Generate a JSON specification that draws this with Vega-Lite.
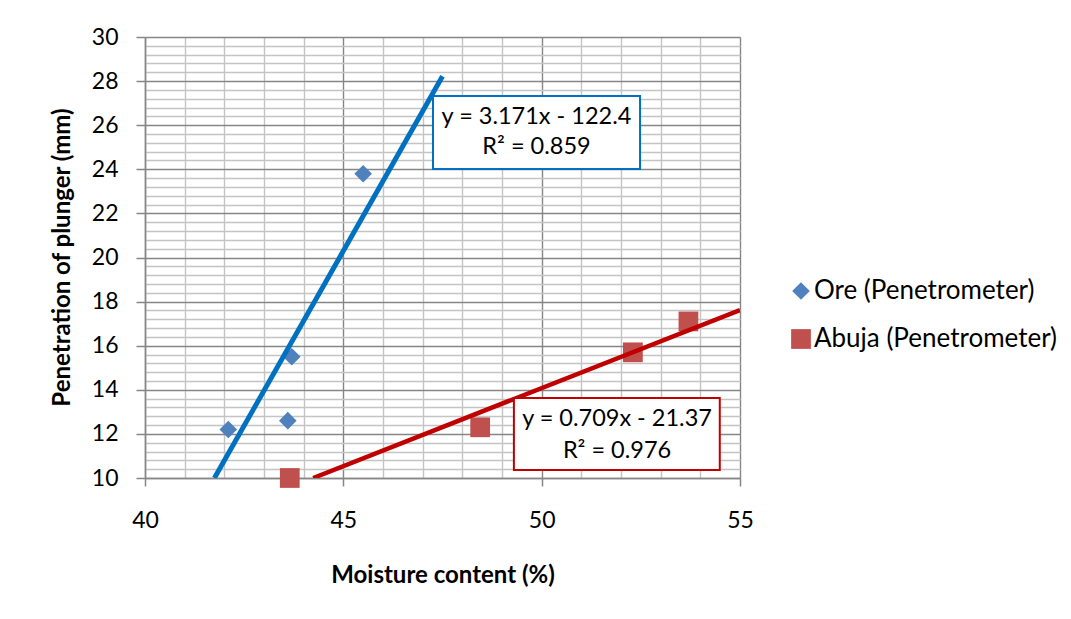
{
  "$schema": "https://vega.github.io/schema/vega-lite/v6.json",
  "autosize": {"type": "none"},
  "width": 595,
  "height": 441,
  "padding": {"left": 145, "top": 37, "right": 331, "bottom": 141},
  "background": "white",
  "config": {
    "font": "Lato",
    "view": {"stroke": null},
    "axis": {
      "labelFont": "Lato",
      "labelFontSize": 23,
      "labelColor": "#000000",
      "titleFont": "Lato",
      "titleFontSize": 24,
      "titleFontWeight": "bold",
      "titleColor": "#000000",
      "domainColor": "#868686",
      "domainWidth": 1.5,
      "tickColor": "#868686",
      "tickWidth": 1.5,
      "labelOverlap": false,
      "labelFlush": false,
      "gridWidth": 1.4
    }
  },
  "datasets": {
    "points": [
      {"series": "Ore (Penetrometer)", "moisture": 42.1, "penetration": 12.2},
      {"series": "Ore (Penetrometer)", "moisture": 43.6, "penetration": 12.6},
      {"series": "Ore (Penetrometer)", "moisture": 43.7, "penetration": 15.5},
      {"series": "Ore (Penetrometer)", "moisture": 45.5, "penetration": 23.8},
      {"series": "Abuja (Penetrometer)", "moisture": 43.65, "penetration": 10.0},
      {"series": "Abuja (Penetrometer)", "moisture": 48.45, "penetration": 12.3},
      {"series": "Abuja (Penetrometer)", "moisture": 52.3, "penetration": 15.7},
      {"series": "Abuja (Penetrometer)", "moisture": 53.7, "penetration": 17.1}
    ],
    "ore_trend": [
      {"moisture": 41.75, "penetration": 10.0},
      {"moisture": 47.5, "penetration": 28.22}
    ],
    "abuja_trend": [
      {"moisture": 44.24, "penetration": 10.0},
      {"moisture": 55.0, "penetration": 17.62}
    ],
    "ore_box": [{"moisture": 47.26, "moisture_end": 52.48, "penetration": 24.01, "penetration_end": 27.32}],
    "abuja_box": [{"moisture": 49.30, "moisture_end": 54.49, "penetration": 10.36, "penetration_end": 13.63}],
    "ore_eq": [
      {"moisture": 49.87, "penetration": 26.37, "text": "y = 3.171x - 122.4"},
      {"moisture": 49.87, "penetration": 25.01, "text": "R² = 0.859"}
    ],
    "abuja_eq": [
      {"moisture": 51.9, "penetration": 12.68, "text": "y = 0.709x - 21.37"},
      {"moisture": 51.9, "penetration": 11.22, "text": "R² = 0.976"}
    ]
  },
  "encoding": {
    "x": {
      "field": "moisture",
      "type": "quantitative",
      "title": "Moisture content (%)",
      "scale": {"domain": [40, 55], "nice": false, "zero": false},
      "axis": {
        "values": [40, 41, 42, 43, 44, 45, 46, 47, 48, 49, 50, 51, 52, 53, 54, 55],
        "grid": true,
        "gridColor": {"condition": {"test": "datum.value % 5 === 0", "value": "#868686"}, "value": "#c4c4c4"},
        "tickOpacity": {"condition": {"test": "datum.value % 5 === 0", "value": 1}, "value": 0},
        "labelExpr": "datum.value % 5 === 0 ? format(datum.value, 'd') : ''",
        "tickSize": 8,
        "labelPadding": 23,
        "titleY": 97,
        "titleBaseline": "middle"
      }
    },
    "y": {
      "field": "penetration",
      "type": "quantitative",
      "title": "Penetration of plunger (mm)",
      "scale": {"domain": [10, 30], "nice": false, "zero": false},
      "axis": {
        "values": [10, 10.4, 10.8, 11.2, 11.6, 12, 12.4, 12.8, 13.2, 13.6, 14, 14.4, 14.8, 15.2, 15.6, 16, 16.4, 16.8, 17.2, 17.6, 18, 18.4, 18.8, 19.2, 19.6, 20, 20.4, 20.8, 21.2, 21.6, 22, 22.4, 22.8, 23.2, 23.6, 24, 24.4, 24.8, 25.2, 25.6, 26, 26.4, 26.8, 27.2, 27.6, 28, 28.4, 28.8, 29.2, 29.6, 30],
        "grid": true,
        "gridColor": {"condition": {"test": "abs(datum.value / 2 - round(datum.value / 2)) < 0.001", "value": "#868686"}, "value": "#c4c4c4"},
        "tickOpacity": {"condition": {"test": "abs(datum.value / 2 - round(datum.value / 2)) < 0.001", "value": 1}, "value": 0},
        "labelExpr": "abs(datum.value / 2 - round(datum.value / 2)) < 0.001 ? format(datum.value, 'd') : ''",
        "tickSize": 9,
        "labelPadding": 18,
        "titleX": -83,
        "titleY": 220,
        "titleBaseline": "middle",
        "titleAngle": -90
      }
    }
  },
  "layer": [
    {
      "data": {"name": "points"},
      "mark": {"type": "point", "filled": true, "opacity": 1, "clip": false},
      "encoding": {
        "color": {
          "field": "series",
          "type": "nominal",
          "scale": {"domain": ["Ore (Penetrometer)", "Abuja (Penetrometer)"], "range": ["#4f81bd", "#c0504d"]},
          "legend": {
            "title": null,
            "orient": "none",
            "legendX": 643,
            "legendY": 241,
            "labelFont": "Lato",
            "labelFontSize": 26,
            "labelColor": "#000000",
            "labelLimit": 0,
            "symbolSize": 240,
            "symbolStrokeWidth": 0,
            "labelOffset": 0,
            "rowPadding": 22
          }
        },
        "shape": {
          "field": "series",
          "type": "nominal",
          "scale": {"domain": ["Ore (Penetrometer)", "Abuja (Penetrometer)"], "range": ["diamond", "square"]}
        },
        "size": {
          "field": "series",
          "type": "nominal",
          "scale": {"domain": ["Ore (Penetrometer)", "Abuja (Penetrometer)"], "range": [310, 390]},
          "legend": null
        }
      }
    },
    {
      "data": {"name": "ore_trend"},
      "mark": {"type": "line", "color": "#0070c0", "strokeWidth": 5, "clip": true},
      "encoding": {}
    },
    {
      "data": {"name": "abuja_trend"},
      "mark": {"type": "line", "color": "#c00000", "strokeWidth": 4.5, "clip": true},
      "encoding": {}
    },
    {
      "data": {"name": "ore_box"},
      "mark": {"type": "rect", "fill": "white", "stroke": "#0070c0", "strokeWidth": 2},
      "encoding": {
        "x2": {"field": "moisture_end"},
        "y2": {"field": "penetration_end"}
      }
    },
    {
      "data": {"name": "abuja_box"},
      "mark": {"type": "rect", "fill": "white", "stroke": "#c00000", "strokeWidth": 2},
      "encoding": {
        "x2": {"field": "moisture_end"},
        "y2": {"field": "penetration_end"}
      }
    },
    {
      "data": {"name": "ore_eq"},
      "mark": {"type": "text", "font": "Lato", "fontSize": 23.5, "color": "#000000", "align": "center", "baseline": "middle"},
      "encoding": {"text": {"field": "text"}}
    },
    {
      "data": {"name": "abuja_eq"},
      "mark": {"type": "text", "font": "Lato", "fontSize": 23.5, "color": "#000000", "align": "center", "baseline": "middle"},
      "encoding": {"text": {"field": "text"}}
    }
  ]
}
